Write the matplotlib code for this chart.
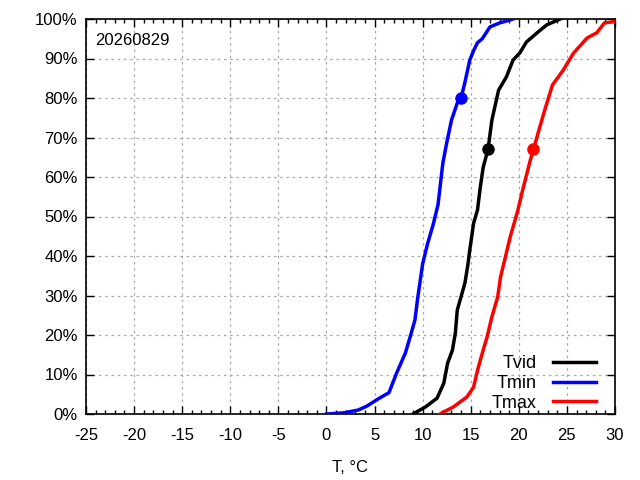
import matplotlib
matplotlib.use('Agg')
import matplotlib.pyplot as plt
from matplotlib.ticker import MultipleLocator, FuncFormatter

plt.rcParams['font.family'] = ['Liberation Sans', 'DejaVu Sans']

# cumulative distribution (T in degC, share in %)
tmin_t = [0.0, 1.8, 3.3, 4.2, 5.5, 6.5, 7.3, 8.2, 8.7, 9.2, 9.5, 10.0, 10.5, 11.1, 11.6,
          12.1, 12.5, 13.0, 13.6, 14.0, 14.4, 14.9, 15.3, 15.7, 16.2, 17.0, 18.0, 19.4]
tmin_p = [0.0, 0.3, 1.0, 2.0, 4.0, 5.4, 10.4, 15.4, 19.5, 23.8, 29.6, 38.0, 43.0, 48.0, 53.0,
          63.5, 68.6, 74.4, 78.7, 80.0, 84.0, 89.6, 92.0, 94.0, 95.0, 98.0, 99.0, 100.0]

tvid_t = [9.0, 10.3, 11.5, 12.2, 12.6, 13.1, 13.4, 13.6, 14.1, 14.4, 14.7, 14.9, 15.3, 15.7,
          16.0, 16.3, 16.8, 17.2, 17.9, 18.7, 19.4, 20.1, 20.8, 21.9, 22.9, 24.3]
tvid_p = [0.0, 1.8, 4.0, 7.8, 12.9, 16.2, 20.5, 26.3, 30.6, 33.2, 37.7, 41.5, 48.3, 51.6,
          57.5, 62.5, 67.0, 74.4, 82.0, 85.3, 89.6, 91.4, 94.2, 96.5, 98.5, 100.0]

tmax_t = [11.8, 13.2, 14.6, 15.3, 15.7, 16.2, 16.7, 17.2, 17.8, 18.1, 18.6, 19.1, 19.6, 19.9,
          20.4, 21.2, 21.5, 22.0, 22.7, 23.5, 24.6, 25.7, 27.1, 28.1, 28.9, 29.8, 30.0]
tmax_p = [0.0, 1.8, 4.3, 6.8, 11.0, 15.4, 19.5, 24.6, 29.6, 34.7, 39.7, 44.8, 49.0, 51.6,
          56.7, 64.3, 66.8, 71.1, 77.0, 83.3, 87.0, 91.4, 95.2, 96.5, 99.0, 99.3, 99.5]

# highlighted points
mark_t = [16.8, 14.0, 21.5]
mark_p = [67.0, 80.0, 67.0]

names = ['Tvid', 'Tmin', 'Tmax']
colors = ['black', '#0000ff', '#ff0000']
date_label = '20260829'

fig = plt.figure(figsize=(6.4, 4.8), dpi=100)
ax = fig.add_axes([86 / 640, 1 - 414 / 480, (615 - 86) / 640, (414 - 19) / 480])

series = [(tvid_t, tvid_p), (tmin_t, tmin_p), (tmax_t, tmax_p)]
for i, (t, p) in enumerate(series):
    ax.plot(t, p, color=colors[i], lw=2.5, label=names[i], zorder=3)
    ax.plot(mark_t[i], mark_p[i], 'o', color=colors[i], ms=8, zorder=4)

ax.set_xlim(-25, 30)
ax.set_ylim(0, 100)
ax.xaxis.set_major_locator(MultipleLocator(5))
ax.xaxis.set_minor_locator(MultipleLocator(1))
ax.xaxis.set_major_formatter(FuncFormatter(lambda v, pos: '%d' % v))
ax.yaxis.set_major_locator(MultipleLocator(10))
ax.yaxis.set_major_formatter(FuncFormatter(lambda v, pos: '%d%%' % v))
ax.tick_params(which='both', direction='in', top=True, right=True, labelsize=12)
ax.tick_params(which='major', length=6, width=1)
ax.tick_params(which='minor', length=3, width=1)
ax.tick_params(axis='x', pad=10)
ax.tick_params(axis='y', pad=6)
ax.grid(True, which='major', color='#a8a8a8', linestyle=(0, (2, 3)), lw=0.9)
for s in ax.spines.values():
    s.set_linewidth(1.2)

ax.set_xlabel('T, °C', fontsize=12, labelpad=12)
ax.text(0.018, 0.965, date_label, transform=ax.transAxes, fontsize=12, va='top', ha='left')

ax.legend(loc='lower right', frameon=False, fontsize=13, markerfirst=False,
          handlelength=2.4, handletextpad=0.9, labelspacing=0.15,
          bbox_to_anchor=(0.995, -0.035))

fig.savefig('out.png', dpi=100)
